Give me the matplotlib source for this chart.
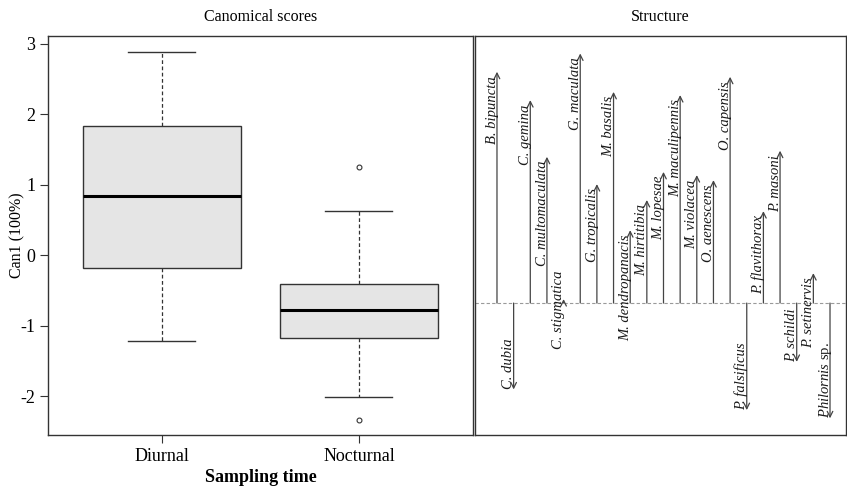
import matplotlib
matplotlib.use('Agg')
import matplotlib.pyplot as plt

plt.rcParams['font.family'] = ['Liberation Serif', 'DejaVu Serif']
plt.rcParams['axes.unicode_minus'] = False
plt.rcParams['mathtext.fontset'] = 'custom'
plt.rcParams['mathtext.it'] = 'Liberation Serif:italic'
plt.rcParams['mathtext.rm'] = 'Liberation Serif'

# Canonical scores, box summaries
groups = ['Diurnal', 'Nocturnal']
whisker_low = [-1.21, -2.01]
quartile_1 = [-0.18, -1.17]
medians = [0.84, -0.78]
quartile_3 = [1.84, -0.415]
whisker_high = [2.885, 0.63]
outliers = [[], [1.25, -2.34]]
score_ticks = [-2, -1, 0, 1, 2, 3]

# Structure coefficients per species
species = ['B. bipuncta', 'C. dubia', 'C. gemina', 'C. multomaculata',
           'C. stigmatica', 'G. maculata', 'G. tropicalis', 'M. basalis',
           'M. dendropanacis', 'M. hirtitibia', 'M. lopesae',
           'M. maculipennis', 'M. violacea', 'O. aenescens', 'O. capensis',
           'P. falsificus', 'P. flavithorax', 'P. masoni', 'P. schildi',
           'P. setinervis', 'Philornis sp.']
structure = [0.873, -0.326, 0.766, 0.552, 0.015, 0.942, 0.449, 0.797,
             0.275, 0.389, 0.495, 0.785, 0.483, 0.464, 0.854, -0.404,
             0.347, 0.575, -0.222, 0.113, -0.435]

EDGE = '#333333'


def draw_scores(ax):
    stats = []
    for i, name in enumerate(groups):
        stats.append({'label': name, 'whislo': whisker_low[i], 'q1': quartile_1[i],
                      'med': medians[i], 'q3': quartile_3[i],
                      'whishi': whisker_high[i], 'fliers': outliers[i]})

    ax.bxp(stats, positions=[1, 2], widths=0.8, capwidths=0.34, patch_artist=True,
           boxprops=dict(facecolor='#e5e5e5', edgecolor=EDGE, linewidth=1.0),
           medianprops=dict(color='black', linewidth=2.2),
           whiskerprops=dict(color=EDGE, linewidth=0.9, linestyle=(0, (3, 2))),
           capprops=dict(color=EDGE, linewidth=1.0),
           flierprops=dict(marker='o', markersize=3.5, markerfacecolor='none',
                           markeredgecolor=EDGE, markeredgewidth=0.8))

    ax.set_xlim(0.424, 2.578)
    ax.set_ylim(-2.55, 3.11)
    ax.set_yticks(score_ticks)
    ax.set_yticklabels([str(t) for t in score_ticks])
    ax.tick_params(axis='both', direction='out', length=6, width=0.8,
                   color=EDGE, labelsize=13, pad=3)
    ax.set_ylabel('Can1 (100%)', fontsize=11.5, labelpad=-3.5)
    ax.set_xlabel('Sampling time', fontsize=13, fontweight='bold', labelpad=3)
    ax.set_title('Canomical scores', fontsize=11.5, pad=11)


def draw_structure(ax):
    ax.axhline(0, color='#9a9a9a', linewidth=0.8, linestyle=(0, (3, 2)))

    for i, (name, value) in enumerate(zip(species, structure), start=1):
        ax.annotate('', xy=(i, value), xytext=(i, 0),
                    arrowprops=dict(arrowstyle='->,head_length=0.4,head_width=0.2',
                                    mutation_scale=10, shrinkA=0, shrinkB=0,
                                    color='#444444', linewidth=0.9))

        if abs(value) < 0.05:
            ha, dy = 'center', -8
        elif value > 0:
            ha, dy = 'right', -3
        else:
            ha, dy = 'left', 0

        if name.endswith(' sp.'):
            label = r'$\mathit{%s}$ sp.' % name[:-4]
            style = 'normal'
        else:
            label = name
            style = 'italic'

        ax.annotate(label, xy=(i, value), xytext=(-1, dy), textcoords='offset points',
                    rotation=90, rotation_mode='anchor', ha=ha, va='baseline',
                    style=style, fontsize=10.5, color='#1a1a1a')

    ax.set_xlim(-0.32, 21.96)
    ax.set_ylim(-0.498, 1.008)
    ax.set_xticks([])
    ax.set_yticks([])
    ax.set_title('Structure', fontsize=11.5, pad=11)


def main():
    fig = plt.figure(figsize=(8.47, 4.9), dpi=100)
    bottom = 55 / 490
    height = 399 / 490
    score_ax = fig.add_axes([48 / 847, bottom, 425 / 847, height])
    structure_ax = fig.add_axes([475 / 847, bottom, 371 / 847, height])

    for ax in (score_ax, structure_ax):
        for spine in ax.spines.values():
            spine.set_color(EDGE)
            spine.set_linewidth(1.0)

    draw_scores(score_ax)
    draw_structure(structure_ax)

    fig.savefig('out.png', dpi=100)


if __name__ == '__main__':
    main()
